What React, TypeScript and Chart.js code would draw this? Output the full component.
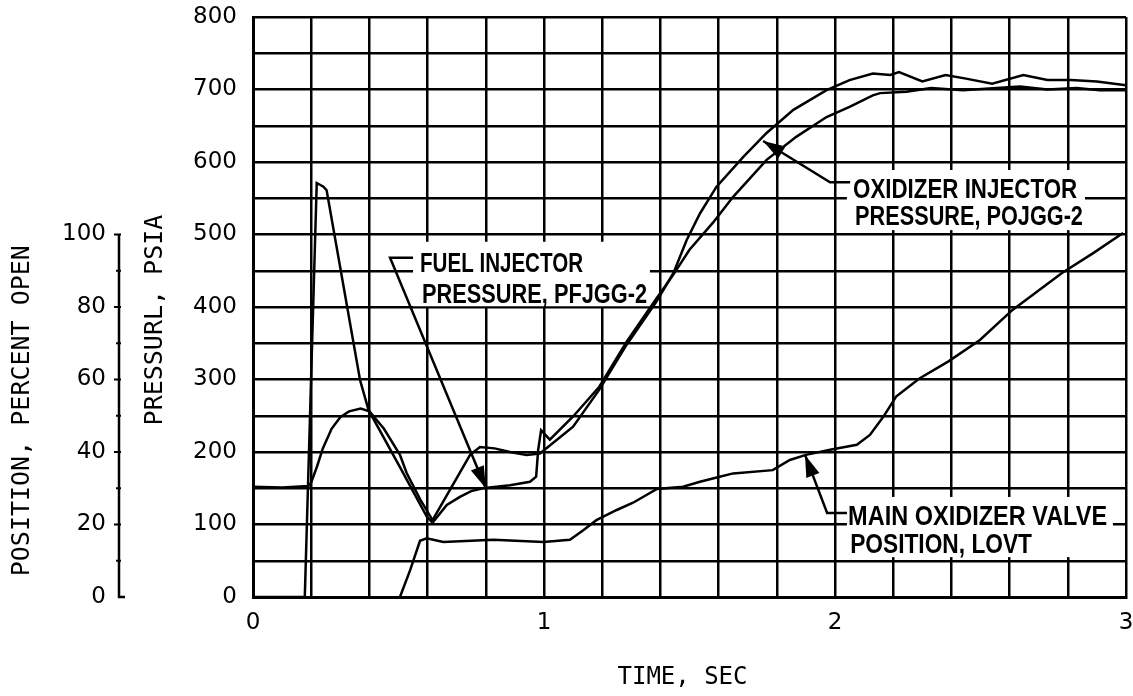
import React, { useEffect, useRef } from 'react';
import { Chart, registerables } from 'chart.js';

Chart.register(...registerables);

// ---- Data (time in sec, pressure in psia, valve position in percent open) ----
const fuelTime = [0, 0.1, 0.19, 0.2, 0.22, 0.24, 0.27, 0.3, 0.33, 0.37, 0.4, 0.45, 0.505, 0.528, 0.574, 0.62, 0.666, 0.711, 0.75, 0.79, 0.883, 0.952, 0.973, 0.98, 0.99, 1.02, 1.1, 1.19, 1.284, 1.387, 1.445, 1.5, 1.58, 1.65, 1.765, 1.868, 1.971, 2.05, 2.13, 2.155, 2.246, 2.33, 2.44, 2.555, 2.636, 2.73, 2.83, 2.91, 3.0];
const fuelPsia = [152, 151, 153, 158, 180, 205, 232, 248, 256, 260, 256, 232, 196, 171, 135, 104, 127, 138, 146, 150, 154, 159, 166, 203, 230, 217, 249, 290, 352, 412, 445, 479, 516, 552, 603, 635, 662, 676, 692, 695, 697, 702, 699, 702, 704, 700, 702, 699, 699];

const oxTime = [0, 0.178, 0.219, 0.242, 0.253, 0.368, 0.397, 0.505, 0.597, 0.614, 0.746, 0.78, 0.83, 0.883, 0.94, 0.986, 1.1, 1.19, 1.284, 1.387, 1.445, 1.49, 1.536, 1.593, 1.685, 1.765, 1.857, 1.971, 2.05, 2.13, 2.19, 2.22, 2.3, 2.38, 2.45, 2.54, 2.647, 2.73, 2.81, 2.9, 3.0];
const oxPsia = [0, 0, 571, 566, 561, 299, 258, 179, 111, 104, 196, 207, 205, 200, 196, 198, 235, 286, 348, 408, 447, 492, 529, 566, 607, 640, 672, 699, 713, 722, 720, 724, 711, 720, 715, 708, 720, 713, 713, 711, 706];

const valveTime = [0.505, 0.54, 0.574, 0.597, 0.654, 0.826, 0.998, 1.089, 1.135, 1.18, 1.25, 1.306, 1.388, 1.478, 1.536, 1.58, 1.65, 1.786, 1.845, 1.9, 1.983, 2.075, 2.12, 2.166, 2.21, 2.29, 2.39, 2.498, 2.61, 2.78, 2.886, 2.99];
const valvePct = [0, 7.4, 15.5, 16.2, 15.2, 15.8, 15.2, 15.8, 18.4, 21.2, 24, 26, 29.8, 30.4, 31.8, 32.7, 34.1, 35, 37.8, 39.2, 40.6, 42, 44.7, 49.7, 55.3, 60.3, 65, 70.9, 79.2, 89.4, 94.8, 100.4];

const xTickValues = [0, 1, 2, 3];
const psiaTickValues = [0, 100, 200, 300, 400, 500, 600, 700, 800];
const positionTickValues = [0, 20, 40, 60, 80, 100];

const fuelLabel = ['FUEL INJECTOR', 'PRESSURE, PFJGG-2'];
const oxLabel = ['OXIDIZER INJECTOR', 'PRESSURE, POJGG-2'];
const valveLabel = ['MAIN OXIDIZER VALVE', 'POSITION, LOVT'];

const xTitle = 'TIME, SEC';
const psiaTitle = 'PRESSURL, PSIA';
const positionTitle = 'POSITION, PERCENT OPEN';

// annotation layout, in data coordinates (time, psia)
const ANNOTATIONS = [
  {
    lines: fuelLabel,
    box: [0.55, 1.364, 490, 401],
    text: [
      { t0: 0.574, t1: 1.134, p: 462 },
      { t0: 0.581, t1: 1.354, p: 419 },
    ],
    leader: [[0.55, 468], [0.471, 468], [0.8, 150]],
  },
  {
    lines: oxLabel,
    box: [2.041, 2.859, 589, 506],
    text: [
      { t0: 2.062, t1: 2.832, p: 563 },
      { t0: 2.069, t1: 2.852, p: 526 },
    ],
    leader: [[2.052, 572], [1.983, 572], [1.753, 629]],
  },
  {
    lines: valveLabel,
    box: [2.041, 2.955, 138, 55],
    text: [
      { t0: 2.045, t1: 2.935, p: 113 },
      { t0: 2.052, t1: 2.677, p: 74 },
    ],
    leader: [[2.041, 116], [1.973, 116], [1.897, 196]],
  },
];

const INK = '#000';

function drawArrowHead(ctx: CanvasRenderingContext2D, fx: number, fy: number, tx: number, ty: number) {
  const ang = Math.atan2(ty - fy, tx - fx);
  const len = 22;
  const hw = 7;
  const bx = tx - len * Math.cos(ang);
  const by = ty - len * Math.sin(ang);
  ctx.beginPath();
  ctx.moveTo(tx, ty);
  ctx.lineTo(bx + hw * Math.sin(ang), by - hw * Math.cos(ang));
  ctx.lineTo(bx - hw * Math.sin(ang), by + hw * Math.cos(ang));
  ctx.closePath();
  ctx.fill();
}

const annotPlugin = {
  id: 'annotPlugin',
  beforeDatasetsDraw(chart: any) {
    const { ctx, scales } = chart;
    const x = scales.x;
    const y = scales.y;
    ctx.save();
    ctx.fillStyle = '#fff';
    for (const a of ANNOTATIONS) {
      const [t0, t1, p0, p1] = a.box;
      const x0 = x.getPixelForValue(t0);
      const x1 = x.getPixelForValue(t1);
      const y0 = y.getPixelForValue(p0);
      const y1 = y.getPixelForValue(p1);
      ctx.fillRect(x0, y0, x1 - x0, y1 - y0);
    }
    ctx.restore();
  },
  afterDatasetsDraw(chart: any) {
    const { ctx, scales, chartArea } = chart;
    const x = scales.x;
    const y = scales.y;
    const y2 = scales.y2;
    ctx.save();
    ctx.fillStyle = INK;
    ctx.strokeStyle = INK;

    // annotation text + leaders
    const font = 'bold 27px "Liberation Sans", Arial, sans-serif';
    const capHalf = 27 * 0.716 / 2;
    for (const a of ANNOTATIONS) {
      a.text.forEach((ln, i) => {
        const xs = x.getPixelForValue(ln.t0);
        const xe = x.getPixelForValue(ln.t1);
        const yc = y.getPixelForValue(ln.p);
        ctx.font = font;
        const w = ctx.measureText(a.lines[i]).width;
        const s = (xe - xs) / w;
        ctx.save();
        ctx.translate(xs, yc + capHalf);
        ctx.scale(s, 1);
        ctx.textAlign = 'left';
        ctx.textBaseline = 'alphabetic';
        ctx.fillText(a.lines[i], 0, 0);
        ctx.restore();
      });
      const pts = a.leader.map(([t, p]) => [x.getPixelForValue(t), y.getPixelForValue(p)]);
      ctx.lineWidth = 2.5;
      ctx.beginPath();
      ctx.moveTo(pts[0][0], pts[0][1]);
      for (let i = 1; i < pts.length; i++) ctx.lineTo(pts[i][0], pts[i][1]);
      ctx.stroke();
      const n = pts.length;
      drawArrowHead(ctx, pts[n - 2][0], pts[n - 2][1], pts[n - 1][0], pts[n - 1][1]);
    }

    // position axis (percent open), sharing the vertical extent of the chart
    const ax = chartArea.left - 134;
    const yb = y2.getPixelForValue(0);
    const yt = y2.getPixelForValue(100);
    ctx.lineWidth = 2.5;
    ctx.beginPath();
    ctx.moveTo(ax, yt);
    ctx.lineTo(ax, yb);
    ctx.lineTo(ax + 6, yb);
    ctx.stroke();
    ctx.lineWidth = 2;
    for (let v = 10; v <= 100; v += 10) {
      const py = y2.getPixelForValue(v);
      ctx.beginPath();
      ctx.moveTo(ax - (v % 20 === 0 ? 5 : 3), py);
      ctx.lineTo(ax + 2, py);
      ctx.stroke();
    }
    ctx.font = '23px "DejaVu Sans", sans-serif';
    ctx.textAlign = 'right';
    ctx.textBaseline = 'middle';
    for (const v of positionTickValues) {
      ctx.fillText(String(v), ax - 13, y2.getPixelForValue(v));
    }

    // axis titles
    ctx.font = '24px "DejaVu Sans Mono", monospace';
    ctx.textAlign = 'center';
    ctx.textBaseline = 'middle';
    ctx.fillText(xTitle, (chartArea.left + chartArea.right) / 2 - 7, chartArea.bottom + 81);

    ctx.font = '25px "DejaVu Sans Mono", monospace';
    ctx.save();
    ctx.translate(chartArea.left - 98, y.getPixelForValue(382));
    ctx.rotate(-Math.PI / 2);
    ctx.fillText(psiaTitle, 0, 0);
    ctx.restore();

    ctx.save();
    ctx.translate(chartArea.left - 231, y.getPixelForValue(257));
    ctx.rotate(-Math.PI / 2);
    ctx.fillText(positionTitle, 0, 0);
    ctx.restore();

    ctx.restore();
  },
};

function toPoints(ts: number[], vs: number[]) {
  return ts.map((t, i) => ({ x: t, y: vs[i] }));
}

export default function App() {
  const ref = useRef<HTMLCanvasElement | null>(null);

  useEffect(() => {
    if (!ref.current) return;
    const lineStyle = {
      borderColor: INK,
      borderWidth: 2.5,
      pointRadius: 0,
      tension: 0,
      fill: false,
    };
    const chart = new Chart(ref.current, {
      type: 'line',
      data: {
        datasets: [
          { label: 'PFJGG-2', data: toPoints(fuelTime, fuelPsia), yAxisID: 'y', ...lineStyle },
          { label: 'POJGG-2', data: toPoints(oxTime, oxPsia), yAxisID: 'y', ...lineStyle },
          { label: 'LOVT', data: toPoints(valveTime, valvePct), yAxisID: 'y2', ...lineStyle },
        ],
      },
      options: {
        animation: false,
        responsive: false,
        devicePixelRatio: 1,
        layout: { padding: { top: 17, right: 7, bottom: 0, left: 0 } },
        plugins: { legend: { display: false }, tooltip: { enabled: false } },
        scales: {
          x: {
            type: 'linear',
            min: 0,
            max: 3,
            ticks: {
              stepSize: 0.2,
              autoSkip: false,
              maxRotation: 0,
              padding: 12,
              color: INK,
              font: { family: '"DejaVu Sans", sans-serif', size: 23 },
              callback: (v: any) => {
                const n = Number(v);
                const r = Math.round(n);
                return Math.abs(n - r) < 1e-6 && xTickValues.includes(r) ? String(r) : '';
              },
            },
            grid: { color: INK, lineWidth: 2.5, drawTicks: false },
            border: { display: true, color: INK, width: 3 },
            afterFit: (s: any) => {
              s.height = 99;
              s.paddingLeft = 0;
              s.paddingRight = 0;
            },
          },
          y: {
            type: 'linear',
            position: 'left',
            min: 0,
            max: 800,
            ticks: {
              stepSize: 50,
              autoSkip: false,
              padding: 16,
              color: INK,
              font: { family: '"DejaVu Sans", sans-serif', size: 23 },
              callback: (v: any) => (psiaTickValues.includes(Number(v)) ? String(v) : ''),
            },
            grid: { color: INK, lineWidth: 2.5, drawTicks: false },
            border: { display: true, color: INK, width: 3 },
            afterFit: (s: any) => {
              s.width = 253;
              s.paddingTop = 0;
              s.paddingBottom = 0;
            },
          },
          y2: {
            type: 'linear',
            display: false,
            min: 0,
            max: 160,
          },
        },
      },
      plugins: [annotPlugin],
    });
    return () => chart.destroy();
  }, []);

  return (
    <div style={{ position: 'absolute', left: 0, top: 0, width: 1133, height: 696, background: '#fff' }}>
      <canvas ref={ref} width={1133} height={696} style={{ display: 'block' }} />
    </div>
  );
}
